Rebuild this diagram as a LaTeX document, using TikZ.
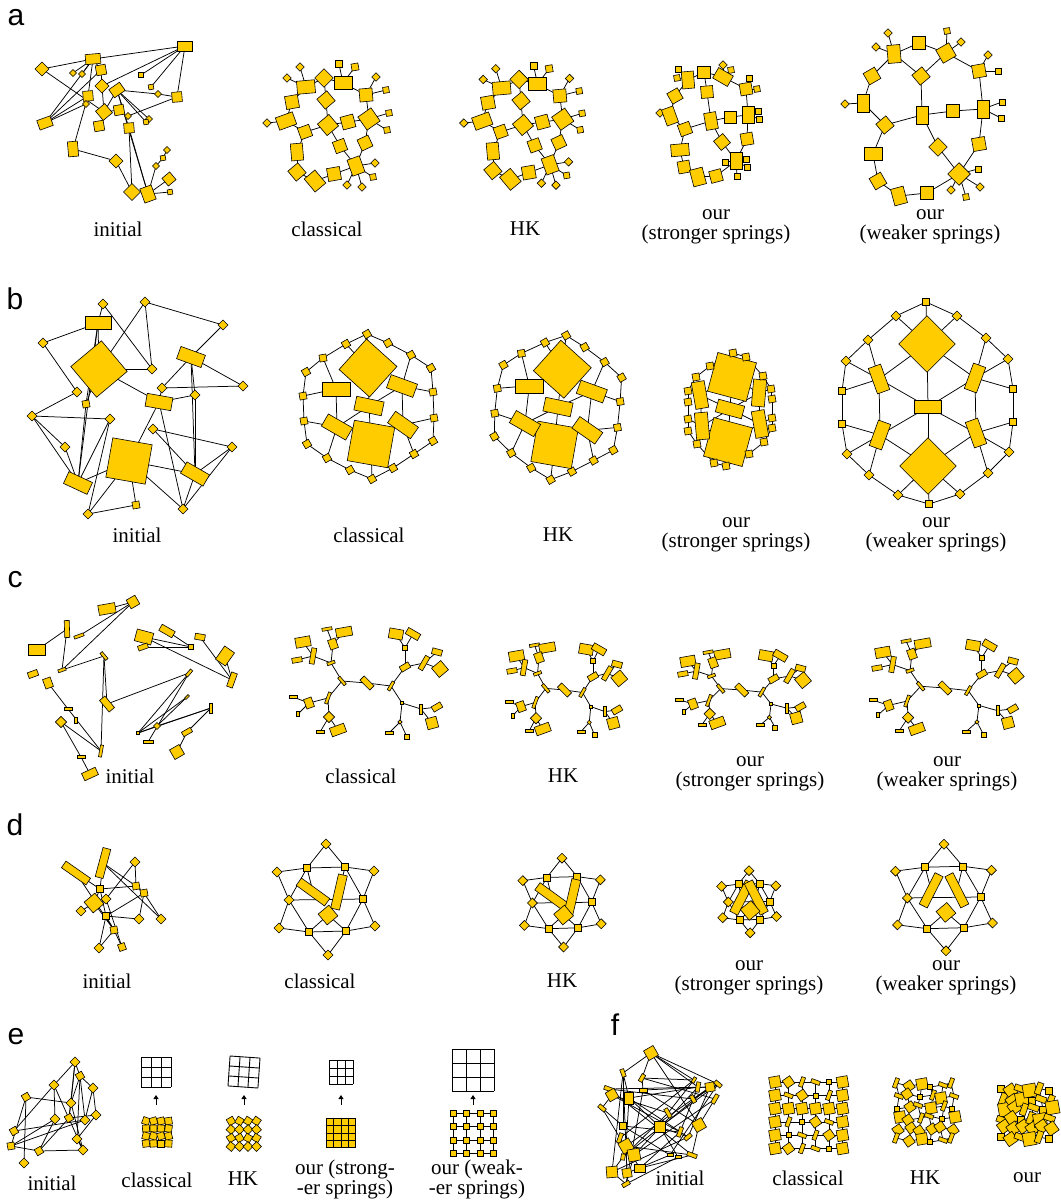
\documentclass[tikz,border=0pt]{standalone}
\usepackage{fontspec}
\setmainfont{Liberation Serif}
\newfontfamily\panelfont{Liberation Sans}
\usetikzlibrary{arrows.meta}
\pgfdeclarelayer{bg}
\pgfdeclarelayer{paper}
\pgfsetlayers{paper,bg,main}
\definecolor{vgold}{RGB}{255,204,0}
\tikzset{
  vtx/.style={draw=black, fill=vgold, line width=0.6pt, inner sep=0pt, outer sep=0pt, rectangle},
  lnk/.style={line width=0.75pt, black},
  mesh/.style={line width=0.9pt, black},
  lbl/.style={font=\fontsize{21}{20}\selectfont, align=center, inner sep=0pt},
  pnl/.style={font=\panelfont\fontsize{30}{30}\selectfont, inner sep=0pt},
  uparrow/.style={line width=1pt, -{Triangle[length=4pt, width=5pt]}},
}
% one graph: prefix, node list, edge list
\newcommand\drawgraph[3]{%
  \foreach \n/\x/\y/\w/\h/\r in #2
    \node[vtx, minimum width=\w, minimum height=\h, rotate=\r] (#1\n) at (\x,\y) {};
  \begin{pgfonlayer}{bg}
    \foreach \u/\v in #3 \draw[lnk] (#1\u.center) -- (#1\v.center);
  \end{pgfonlayer}}
% 3x3 mesh icon: x0, y0, cell
\newcommand\meshicon[3]{%
  \foreach \k in {0,...,3} {
    \draw[mesh] (#1+\k*#3,#2) -- (#1+\k*#3,#2+3*#3);
    \draw[mesh] (#1,#2+\k*#3) -- (#1+3*#3,#2+\k*#3);
  }}
\newcommand\fkind[1]{\ifcase#1 \def\w{11}\def\h{11}\def\r{10}\or\def\w{10}\def\h{4}\def\r{70}\or
  \def\w{5}\def\h{5}\def\r{0}\or\def\w{9}\def\h{9}\def\r{35}\else\def\w{9}\def\h{4}\def\r{-20}\fi}

%% data
\def\aInitNodes{1/185/46/15/10/0, 2/93/59/15/10/5, 3/42/69/10/10/45, 4/73/73/5/5/45, 5/82/74/5/5/45,
  6/101/70/10/10/10, 7/102/86/10/10/45, 8/117/90/13/10/35, 9/88/96/10/10/5, 10/141/75/5/5/0,
  11/151/87/5/5/10, 12/158/94/5/5/45, 13/177/97/10/10/5, 14/86/104/5/5/45, 15/104/112/12/12/40,
  16/119/110/10/10/10, 17/45/123/14/10/20, 18/128/116/5/5/45, 19/149/119/5/5/45, 20/146/122/5/5/10,
  21/99/126/10/10/10, 22/129/128/10/10/5, 23/73/149/10/15/5, 24/116/161/10/10/45, 25/167/150/5/5/45,
  26/163/158/5/5/10, 27/156/166/5/5/45, 28/169/179/10/10/40, 29/170/192/5/5/10, 30/132/192/12/12/45,
  31/148/194/12/15/20}
\def\aInitEdges{3/2, 2/1, 2/4, 2/5, 2/6, 2/9, 2/17, 1/7, 1/10, 1/11, 1/13, 3/15, 6/7, 7/15, 9/17,
  14/17, 6/17, 9/23, 8/12, 12/13, 13/18, 8/19, 8/20, 8/22, 8/15, 8/31, 16/15, 22/30, 22/31, 23/24,
  24/30, 31/27, 27/26, 26/25, 31/28, 31/29}
\def\aClassNodes{1/300/67/6/6/45, 2/287/78/6/6/45, 3/306/87/18/13/5, 4/324/78/13/13/45, 5/343/83/18/13/0,
  6/339/64/7/7/0, 7/355/67/7/7/10, 8/366/95/13/13/5, 9/376/77/6/6/45, 10/386/90/6/6/10,
  11/292/102/13/13/10, 12/326/100/13/13/40, 13/286/121/18/13/20, 14/267/123/6/6/45, 15/328/125/15/15/40,
  16/348/122/13/13/15, 17/369/119/16/16/35, 18/389/113/6/6/10, 19/387/130/6/6/10, 20/305/132/12/12/20,
  21/297/152/12/17/5, 22/340/146/12/12/20, 23/365/143/12/12/25, 24/356/166/13/17/20, 25/375/163/6/6/45,
  26/373/177/6/6/10, 27/362/187/6/6/45, 28/347/185/6/6/45, 29/297/172/13/13/40, 30/315/181/14/17/40,
  31/334/174/13/13/10}
\def\aClassEdges{1/3, 2/3, 3/4, 4/5, 5/6, 5/7, 5/8, 8/9, 8/10, 3/11, 4/12, 11/13, 13/14, 12/15, 15/16,
  16/17, 17/18, 17/19, 13/20, 15/20, 20/21, 15/22, 8/17, 17/23, 23/24, 22/24, 24/25, 24/26, 24/27,
  24/28, 21/29, 29/30, 30/31, 31/24}
\def\aStrongNodes{1/678/69/6/6/0, 2/677/78/6/6/10, 3/688/80/12/17/5, 4/704/72/13/12/0, 5/723/65/6/6/45,
  6/731/70/6/6/10, 7/723/77/17/12/-30, 8/749/78/6/6/0, 9/757/89/6/6/10, 10/746/89/12/12/10,
  11/707/92/12/12/5, 12/675/96/12/12/30, 13/660/113/6/6/45, 14/670/116/12/17/20, 15/711/121/12/17/10,
  16/730/117/12/12/0, 17/748/115/12/17/0, 18/758/111/6/6/0, 19/759/119/6/6/0, 20/685/129/12/12/20,
  21/722/142/12/12/40, 22/747/139/12/12/10, 23/680/150/18/12/5, 24/736/161/12/17/0, 25/746/159/6/6/0,
  26/725/162/6/6/0, 27/747/167/6/6/0, 28/737/176/6/6/0, 29/684/167/12/12/10, 30/698/177/13/17/15,
  31/716/176/12/12/15}
\def\aStrongEdges{1/3, 2/3, 3/4, 4/7, 7/5, 7/6, 7/10, 10/8, 10/9, 3/12, 4/11, 12/14, 14/13, 11/15,
  14/20, 20/15, 15/16, 16/17, 10/17, 17/18, 17/19, 15/21, 17/22, 21/24, 22/24, 24/25, 24/26, 24/27,
  24/28, 20/23, 23/29, 29/30, 30/31, 31/24}
\def\aWeakNodes{1/888/33/6/6/45, 2/947/31/6/6/10, 3/876/47/6/6/45, 4/894/54/13/18/5, 5/919/43/13/13/0,
  6/946/53/15/15/30, 7/961/42/6/6/45, 8/988/55/6/6/45, 9/979/71/13/13/10, 10/998/71/6/6/0,
  11/872/76/13/13/30, 12/921/76/13/13/40, 13/845/104/6/6/45, 14/863/103/12/18/0, 15/922/115/12/18/0,
  16/953/111/13/13/0, 17/983/109/12/18/0, 18/1002/102/6/6/0, 19/1001/118/6/6/0, 20/885/125/13/13/40,
  21/938/147/13/13/45, 22/979/144/13/13/10, 23/873/154/18/13/0, 24/959/174/16/16/45, 25/978/169/6/6/0,
  26/980/187/6/6/45, 27/966/197/6/6/10, 28/951/190/6/6/45, 29/878/181/13/13/30, 30/899/196/13/17/15,
  31/927/193/13/13/0}
\def\aWeakEdges{4/3, 4/1, 4/5, 5/6, 6/2, 6/7, 6/12, 4/12, 6/9, 9/8, 9/10, 9/17, 4/11, 11/14, 14/13,
  14/20, 12/15, 20/15, 15/16, 16/17, 17/18, 17/19, 17/22, 15/21, 21/24, 22/24, 20/23, 23/29, 29/30,
  30/31, 31/24, 24/25, 24/26, 24/27, 24/28}
\def\bInitNodes{1/103/304/7/7/45, 2/145/302/7/7/45, 3/98/323/26/13/0, 4/43/343/7/7/45, 5/223/325/7/7/45,
  6/99/369/40/40/40, 7/191/357/26/13/-20, 8/152/369/7/7/45, 9/162/388/7/7/45, 10/243/386/7/7/45,
  11/77/392/7/7/45, 12/86/404/7/7/10, 13/195/395/7/7/45, 14/159/402/26/13/-10, 15/32/416/7/7/45,
  16/110/419/7/7/45, 17/153/429/7/7/45, 18/65/447/7/7/45, 19/129/461/40/40/-10, 20/232/447/7/7/45,
  21/78/483/26/13/-25, 22/195/474/26/13/-30, 23/88/514/7/7/45, 24/136/505/7/7/10, 25/183/509/7/7/45}
\def\bInitEdges{1/8, 1/3, 3/4, 3/6, 3/12, 3/21, 4/11, 11/15, 2/6, 2/5, 2/8, 5/7, 6/8, 6/14, 7/9, 7/10,
  7/22, 9/10, 7/13, 13/14, 14/19, 14/25, 9/14, 15/18, 15/21, 15/16, 16/21, 16/23, 18/21, 12/21, 21/19,
  19/22, 17/20, 17/22, 20/22, 20/25, 19/24, 19/25, 23/24, 23/19, 22/25, 13/22, 12/6}
\def\bClassNodes{1/367/334/7/7/30, 2/388/343/7/7/30, 3/411/355/7/7/30, 4/431/368/7/7/30, 5/433/392/7/7/10,
  6/434/418/7/7/10, 7/433/441/7/7/30, 8/414/454/7/7/30, 9/393/468/7/7/30, 10/372/479/7/7/30,
  11/350/470/7/7/30, 12/327/458/7/7/30, 13/307/444/7/7/30, 14/304/421/7/7/10, 15/303/396/7/7/10,
  16/306/372/7/7/30, 17/323/358/7/7/10, 18/346/344/7/7/30, 19/368/368/41/41/48, 20/371/444/41/41/-10,
  21/336/389/28/14/0, 22/402/386/28/14/-20, 23/369/406/28/14/-12, 24/337/427/28/14/-30, 25/403/425/28/14/-35}
\def\bClassEdges{1/2, 2/3, 3/4, 4/5, 5/6, 6/7, 7/8, 8/9, 9/10, 10/11, 11/12, 12/13, 13/14, 14/15, 15/16,
  16/17, 17/18, 18/1, 19/1, 19/18, 17/21, 15/21, 3/22, 5/22, 14/24, 12/24, 6/25, 8/25, 10/20, 21/24,
  22/25, 23/20, 23/22, 23/24, 23/19}
\def\bStrongNodes{1/732/377/40/40/-15, 2/728/442/40/40/-15, 3/730/409/27/13/-15, 4/700/395/13/27/10,
  5/702/426/13/27/5, 6/759/393/13/27/-5, 7/760/424/13/27/10, 8/733/353/7/7/10, 9/746/357/7/7/10,
  10/710/366/7/7/10, 11/696/377/7/7/10, 12/688/391/7/7/10, 13/688/402/7/7/10, 14/688/419/7/7/10,
  15/688/431/7/7/10, 16/697/444/7/7/10, 17/763/376/7/7/10, 18/771/389/7/7/10, 19/772/399/7/7/10,
  20/772/418/7/7/10, 21/772/428/7/7/10, 22/764/442/7/7/10, 23/749/454/7/7/10, 24/714/463/7/7/10,
  25/726/466/7/7/10}
\def\bStrongEdges{8/9, 9/17, 17/18, 18/19, 19/20, 20/21, 21/22, 22/23, 23/25, 25/24, 24/16, 16/15,
  15/14, 14/13, 13/12, 12/11, 11/10, 10/8, 1/3, 2/3, 3/4, 3/5, 3/6, 3/7, 4/5, 6/7, 1/4, 1/6, 2/5, 2/7,
  5/14, 6/18, 7/20}
\def\bWeakNodes{1/926/302/7/7/0, 2/957/316/7/7/45, 3/986/338/7/7/45, 4/1008/359/7/7/45, 5/1013/389/7/7/0,
  6/1013/422/7/7/0, 7/1009/452/7/7/45, 8/988/473/7/7/45, 9/960/494/7/7/45, 10/929/504/7/7/0,
  11/898/495/7/7/45, 12/869/475/7/7/45, 13/847/454/7/7/45, 14/842/424/7/7/0, 15/842/391/7/7/0,
  16/846/361/7/7/45, 17/868/340/7/7/45, 18/896/316/7/7/45, 19/927/344/40/40/45, 20/928/466/40/40/45,
  21/928/407/27/13/0, 22/879/379/13/27/20, 23/880/435/13/27/-20, 24/975/378/13/27/-20, 25/976/433/13/27/20}
\def\bWeakEdges{1/2, 2/3, 3/4, 4/5, 5/6, 6/7, 7/8, 8/9, 9/10, 10/11, 11/12, 12/13, 13/14, 14/15, 15/16,
  16/17, 17/18, 18/1, 1/19, 2/19, 18/19, 17/22, 16/22, 15/22, 14/23, 13/23, 12/23, 10/20, 11/20, 9/20,
  3/24, 4/24, 5/24, 6/25, 7/25, 8/25, 19/22, 19/24, 19/21, 20/23, 20/25, 20/21, 21/22, 21/23, 21/24,
  21/25, 22/23, 24/25}
\def\cInitNodes{1/107/609/17/10/10, 2/133/602/10/10/30, 3/67/629/5/17/2, 4/79/636/10/3/20, 5/37/650/17/11/0,
  6/62/670/8/3/20, 7/33/674/10/6/20, 8/104/656/9/3/-50, 9/48/683/8/10/20, 10/107/704/15/7/-50,
  11/68/709/8/3/0, 12/76/720/3/6/0, 13/61/722/8/8/45, 14/101/751/3/12/-10, 15/81/757/8/3/0,
  16/90/774/15/8/25, 17/144/637/17/12/-15, 18/167/631/15/7/-30, 19/143/647/10/5/20, 20/191/647/5/5/0,
  21/200/637/10/6/-10, 22/225/656/12/16/-35, 23/189/673/8/3/50, 24/232/680/6/15/-20, 25/187/697/5/2/45,
  26/211/708/3/10/0, 27/157/726/5/5/45, 28/138/733/3/3/0, 29/187/732/10/5/30, 30/148/742/10/3/0,
  31/177/752/11/11/30}
\def\cInitEdges{1/2, 2/6, 2/4, 3/5, 3/6, 6/8, 8/14, 8/10, 10/23, 9/11, 11/14, 13/14, 13/15, 15/16,
  17/20, 19/20, 18/20, 17/24, 21/24, 22/24, 23/28, 23/30, 25/28, 25/27, 27/26, 26/29, 29/31, 28/27, 28/26}
\def\cTreeNodes{1/303/642/15/10/10, 2/313/656/5/16/-10, 3/297/660/10/5/10, 4/327/629/10/3/10,
  5/344/632/16/9/10, 6/333/644/8/10/20, 7/331/663/8/3/20, 8/342/681/10/3/-50, 9/328/698/12/3/70,
  10/309/703/8/10/20, 11/293/697/8/3/0, 12/298/714/3/5/0, 13/329/717/8/8/45, 14/320/732/8/3/0,
  15/338/730/15/9/20, 16/367/683/14/6/-45, 17/391/686/10/3/60, 18/396/634/14/10/-10, 19/413/634/14/7/-30,
  20/405/648/5/5/0, 21/405/667/10/6/30, 22/424/663/15/5/60, 23/437/652/10/6/-15, 24/440/669/12/12/40,
  25/402/703/3/3/0, 26/421/709/3/10/0, 27/437/707/10/6/30, 28/432/723/11/11/15, 29/400/722/3/3/45,
  30/389/733/8/3/0, 31/407/737/5/5/0}
\def\cTreeEdges{16/8, 16/17, 8/7, 8/9, 7/6, 7/2, 2/1, 2/3, 6/4, 6/5, 9/10, 10/11, 10/12, 9/13, 13/14,
  13/15, 17/21, 21/20, 20/18, 20/19, 21/22, 22/23, 22/24, 17/25, 25/26, 26/27, 26/28, 25/29, 29/30, 29/31}
\def\dInitNodes{1/76/873/30/8/-35, 2/103/863/30/8/75, 3/135/862/7/7/45, 4/100/889/7/7/0, 5/136/886/7/7/10,
  6/144/893/7/7/10, 7/94/903/14/14/40, 8/106/899/7/7/45, 9/81/911/7/7/45, 10/106/916/7/7/0,
  11/139/919/7/7/45, 12/161/919/7/7/45, 13/114/930/7/7/10, 14/99/948/7/7/45, 15/122/947/7/7/20}
\def\dInitEdges{1/4, 2/4, 1/13, 4/5, 2/5, 3/5, 3/8, 5/6, 6/10, 6/11, 10/11, 6/12, 2/12, 4/7, 7/9, 7/13,
  10/13, 13/14, 13/15, 10/14, 8/15, 4/10}
\def\dStarNodes{1/326/844/7/7/45, 2/307/868/7/7/0, 3/345/867/7/7/0, 4/277/872/7/7/45, 5/374/871/7/7/45,
  6/289/900/7/7/45, 7/363/899/7/7/0, 8/279/928/7/7/45, 9/375/926/7/7/45, 10/309/932/7/7/0,
  11/346/931/7/7/0, 12/328/955/7/7/45, 13/313/892/35/9/\rectA, 14/339/892/9/35/\rectB, 15/328/915/14/14/40}
\def\dStarEdges{1/2, 1/3, 2/3, 2/4, 3/5, 4/6, 5/7, 2/6, 3/7, 6/8, 7/9, 6/10, 7/11, 8/10, 9/11, 10/11,
  10/12, 11/12, 6/7, 15/10, 15/11, 13/2, 14/3}
\newcommand\dstar[3]{\def\rectA{#2}\def\rectB{#3}\drawgraph{#1}{\dStarNodes}{\dStarEdges}}
\def\eInitNodes{1/75/1062/7/7/45, 2/80/1076/7/7/30, 3/54/1085/7/7/45, 4/93/1088/7/7/45, 5/26/1097/7/7/30,
  6/71/1103/7/7/45, 7/96/1115/7/7/45, 8/55/1119/7/7/45, 9/69/1118/7/7/30, 10/85/1120/7/7/45,
  11/14/1131/7/7/30, 12/77/1139/7/7/45, 13/11/1146/7/7/10, 14/39/1151/7/7/30, 15/83/1150/7/7/45,
  16/24/1163/7/7/45}
\def\eInitEdges{1/2, 1/3, 1/6, 1/9, 2/4, 2/6, 2/10, 2/12, 3/8, 3/11, 3/15, 4/7, 4/10, 5/6, 5/13, 5/16,
  6/15, 7/12, 7/9, 8/13, 8/14, 9/14, 10/13, 11/10, 13/14, 14/15, 12/15, 6/9}
\def\fInitNodes{1/651/1053/11/11/30, 2/623/1073/8/4/-70, 3/642/1078/8/4/60, 4/609/1089/10/4/-20,
  5/612/1095/10/10/30, 6/629/1098/9/12/0, 7/643/1090/8/4/0, 8/602/1108/8/4/-40, 9/694/1080/6/3/60,
  10/698/1087/10/4/80, 11/710/1087/9/9/10, 12/718/1084/8/4/-40, 13/715/1099/10/4/60, 14/693/1099/8/4/-60,
  15/668/1113/10/4/-60, 16/623/1126/7/7/0, 17/660/1127/11/11/0, 18/699/1125/11/11/30, 19/680/1132/10/4/70,
  20/688/1137/8/4/40, 21/620/1138/10/4/70, 22/626/1146/12/12/30, 23/634/1155/12/12/10, 24/623/1157/6/4/80,
  25/670/1155/6/3/0, 26/678/1157/6/3/0, 27/692/1155/10/4/-20, 28/640/1168/11/8/0, 29/612/1172/11/11/5,
  30/627/1173/9/9/10, 31/626/1184/8/4/30}
\def\fInitEdges{1/2, 1/3, 1/9, 1/12, 1/10, 2/6, 2/16, 3/7, 3/9, 3/13, 4/5, 4/11, 4/14, 5/8, 5/15, 6/10,
  6/17, 6/22, 7/11, 7/18, 8/16, 8/21, 9/15, 10/19, 11/20, 12/17, 12/14, 13/18, 13/23, 14/22, 15/24,
  16/25, 17/26, 18/27, 19/28, 20/29, 21/28, 22/30, 23/31, 24/29, 25/30, 26/31, 27/28, 29/31, 30/2,
  31/7, 5/19, 6/20, 9/21, 11/24, 4/27, 10/23, 12/25, 2/29, 1/18, 16/19, 14/11, 17/20, 22/27}

\begin{document}
\begin{tikzpicture}[x=1pt, y=-1pt]
\begin{pgfonlayer}{paper}
  \path[fill=white, use as bounding box] (0,0) rectangle (1049,1201);
\end{pgfonlayer}

%% panel letters
\node[pnl] (la) at (16,18) {a};
\node[pnl] (lb) at (15,299) {b};
\node[pnl] (lc) at (15,580) {c};
\node[pnl] (ld) at (15,825) {d};
\node[pnl] (le) at (16,1037) {e};
\node[pnl] (lf) at (615,1025) {f};

%% row a
\drawgraph{ai}{\aInitNodes}{\aInitEdges}
\drawgraph{ac}{\aClassNodes}{\aClassEdges}
\begin{scope}[shift={(522,125)}, scale=0.97, shift={(-327,-125)}]
  \drawgraph{ah}{\aClassNodes}{\aClassEdges}
\end{scope}
\drawgraph{as}{\aStrongNodes}{\aStrongEdges}
\drawgraph{aw}{\aWeakNodes}{\aWeakEdges}
\node[lbl] (at1) at (118,229) {initial};
\node[lbl] (at2) at (327,229) {classical};
\node[lbl] (at3) at (525,229) {HK};
\node[lbl] (at4) at (716,227) {our\\(stronger springs)};
\node[lbl] (at5) at (930,227) {our\\(weaker springs)};

%% row b
\drawgraph{bi}{\bInitNodes}{\bInitEdges}
\drawgraph{bc}{\bClassNodes}{\bClassEdges}
\begin{scope}[shift={(558,407)}, rotate=-8, xscale=0.95, shift={(-369,-406)}]
  \drawgraph{bh}{\bClassNodes}{\bClassEdges}
\end{scope}
\drawgraph{bs}{\bStrongNodes}{\bStrongEdges}
\drawgraph{bw}{\bWeakNodes}{\bWeakEdges}
\node[lbl] (bt1) at (137,535) {initial};
\node[lbl] (bt2) at (369,535) {classical};
\node[lbl] (bt3) at (558,535) {HK};
\node[lbl] (bt4) at (736,535) {our\\(stronger springs)};
\node[lbl] (bt5) at (936,535) {our\\(weaker springs)};

%% row c
\drawgraph{ci}{\cInitNodes}{\cInitEdges}
\drawgraph{cc}{\cTreeNodes}{\cTreeEdges}
\begin{scope}[shift={(563,690)}, xscale=0.75, yscale=0.83, shift={(-365,-683)}]
  \drawgraph{ch}{\cTreeNodes}{\cTreeEdges}
\end{scope}
\begin{scope}[shift={(740,690)}, xscale=0.84, yscale=0.7, shift={(-365,-683)}]
  \drawgraph{cs}{\cTreeNodes}{\cTreeEdges}
\end{scope}
\begin{scope}[shift={(943,688)}, xscale=0.97, yscale=0.87, shift={(-365,-683)}]
  \drawgraph{cw}{\cTreeNodes}{\cTreeEdges}
\end{scope}
\node[lbl] (ct1) at (130,776) {initial};
\node[lbl] (ct2) at (361,776) {classical};
\node[lbl] (ct3) at (563,776) {HK};
\node[lbl] (ct4) at (750,774) {our\\(stronger springs)};
\node[lbl] (ct5) at (947,774) {our\\(weaker springs)};

%% row d
\drawgraph{di}{\dInitNodes}{\dInitEdges}
\dstar{dc}{-36}{-13}
\begin{scope}[shift={(562,903)}, scale=0.8, shift={(-326,-900)}]
  \dstar{dh}{-36}{-13}
\end{scope}
\begin{scope}[shift={(749,902)}, scale=0.56, shift={(-326,-900)}]
  \dstar{ds}{63}{27}
\end{scope}
\begin{scope}[shift={(944,898)}, xscale=0.99, yscale=0.96, shift={(-326,-900)}]
  \dstar{dw}{63}{27}
\end{scope}
\node[lbl] (dt1) at (107,981) {initial};
\node[lbl] (dt2) at (320,981) {classical};
\node[lbl] (dt3) at (562,981) {HK};
\node[lbl] (dt4) at (749,978) {our\\(stronger springs)};
\node[lbl] (dt5) at (946,978) {our\\(weaker springs)};

%% row e
\drawgraph{ei}{\eInitNodes}{\eInitEdges}
\meshicon{141}{1057}{10}
\begin{scope}[rotate around={-4:(244,1072)}]
  \meshicon{229}{1057}{10}
\end{scope}
\meshicon{329}{1060}{8}
\meshicon{452}{1049}{14}
\foreach \cx/\nm in {156/ec, 244/eh, 341/es, 473/ew} {
  \coordinate (\nm A) at (\cx,1105);
  \coordinate (\nm B) at (\cx,1095);
  \draw[uparrow] (\nm A) -- (\nm B);
}
\foreach \i in {0,...,3} \foreach \j in {0,...,3} {
  \pgfmathsetmacro\r{mod(\i*37+\j*23,41)-20}
  \node[vtx, minimum size=7, rotate=\r] (ec\i\j) at (146+7.5*\i, 1121+7.5*\j) {};
  \pgfmathsetmacro\r{mod(\i*29+\j*17,31)+30}
  \node[vtx, minimum size=7, rotate=\r] (eh\i\j) at (231+8.5*\i, 1121+8.5*\j) {};
  \node[vtx, minimum size=7.3] (es\i\j) at (330+7.3*\i, 1122+7.3*\j) {};
  \node[vtx, minimum size=6] (ew\i\j) at (453+13.5*\i, 1113+13.5*\j) {};
}
\begin{pgfonlayer}{bg}
  \foreach \i in {0,...,3} \foreach \j [count=\jn from 1] in {0,...,2} {
    \draw[lnk] (ew\i\j.center) -- (ew\i\jn.center);
    \draw[lnk] (ew\j\i.center) -- (ew\jn\i.center);
  }
\end{pgfonlayer}
\node[lbl] (et1) at (52,1183) {initial};
\node[lbl] (et2) at (157,1180) {classical};
\node[lbl] (et3) at (243,1179) {HK};
\node[lbl] (et4) at (345,1179) {our (strong-\\-er springs)};
\node[lbl] (et5) at (477,1179) {our (weak-\\-er springs)};

%% row f
\drawgraph{fi}{\fInitNodes}{\fInitEdges}
\foreach \i in {0,...,5} \foreach \j in {0,...,5} {
  \pgfmathtruncatemacro\k{mod(3*\i+5*\j+\i*\j,5)}
  \fkind{\k}
  \node[vtx, minimum width=\w, minimum height=\h, rotate=\r] (fc\i\j) at (775+13.5*\i, 1082+13.3*\j) {};
  \pgfmathtruncatemacro\k{mod(2*\i+3*\j+2*\i*\j+1,5)}
  \fkind{\k}
  \node[vtx, minimum width=\w, minimum height=\h, rotate=\r] (fh\i\j)
    at ({898+11*\i+mod(7*\i+3*\j,5)-2}, {1085+11*\j+mod(3*\i+7*\j,5)-2}) {};
  \pgfmathtruncatemacro\k{mod(\i+4*\j+\i*\j+2,5)}
  \fkind{\k}
  \node[vtx, minimum width=\w+2, minimum height=\h+2, rotate=\r] (fo\i\j)
    at ({1003+9.5*\i+mod(5*\i+2*\j,5)-2}, {1090+9.5*\j+mod(2*\i+5*\j,4)-1.5}) {};
}
\begin{pgfonlayer}{bg}
  \foreach \p in {fc, fh, fo}
    \foreach \i in {0,...,5} \foreach \j [count=\jn from 1] in {0,...,4} {
      \draw[lnk] (\p\i\j.center) -- (\p\i\jn.center);
      \draw[lnk] (\p\j\i.center) -- (\p\jn\i.center);
    }
\end{pgfonlayer}
\node[lbl] (ft1) at (680,1178) {initial};
\node[lbl] (ft2) at (808,1178) {classical};
\node[lbl] (ft3) at (925,1178) {HK};
\node[lbl] (ft4) at (1027,1178) {our};
\end{tikzpicture}
\end{document}
